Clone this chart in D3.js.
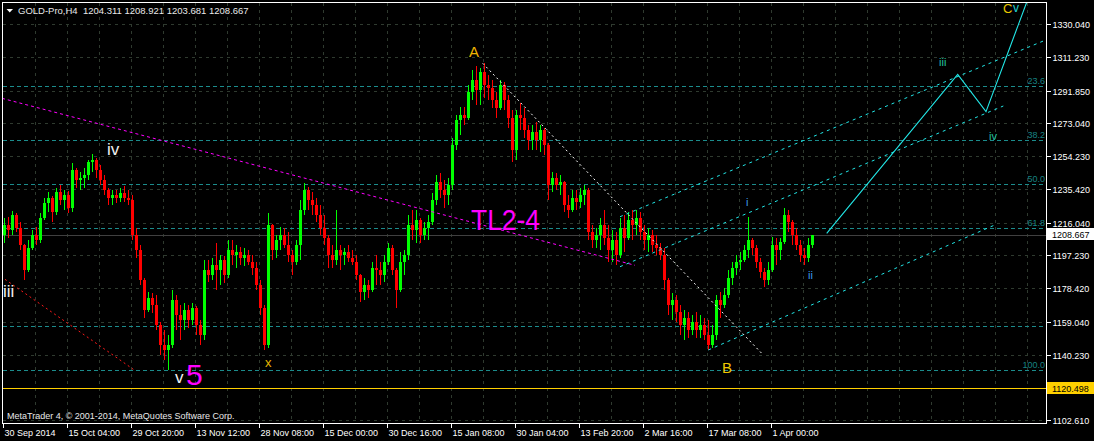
<!DOCTYPE html>
<html><head><meta charset="utf-8">
<script src="https://cdn.jsdelivr.net/npm/d3@7"></script>
<style>html,body{margin:0;padding:0;background:#000;overflow:hidden}svg{display:block}text{font-family:"Liberation Sans",Arial,sans-serif}</style>
</head><body>
<svg id="c" width="1094" height="441"></svg>
<script>
// ---------- DATA ----------
const symbolTitle = "GOLD-Pro,H4";
const lastBarOHLC = [1204.311, 1208.921, 1203.681, 1208.667];
const copyrightText = "MetaTrader 4, \u00a9 2001-2014, MetaQuotes Software Corp.";
const barsPerGroup = 4; // each candle below summarises 4 H4 bars

const opens = [1208.9,1214.6,1211.8,1220.4,1212.9,1203.2,1188.9,1201.5,1208.9,1206.1,1218.7,1227.3,1230.1,1222.2,1233.7,1229.0,1231.9,1224.4,1246.2,1240.5,1241.6,1243.3,1250.9,1252.0,1246.2,1240.5,1234.8,1230.1,1231.9,1230.1,1233.1,1230.1,1229.0,1208.9,1200.3,1183.1,1165.9,1172.8,1168.8,1157.3,1145.8,1143.0,1145.8,1171.6,1163.0,1160.2,1165.9,1160.2,1167.0,1157.3,1151.5,1188.9,1186.0,1191.7,1188.9,1194.6,1186.0,1200.3,1197.5,1199.2,1195.7,1197.5,1193.5,1190.1,1180.2,1167.0,1145.8,1214.6,1200.3,1206.1,1208.9,1203.2,1197.5,1193.5,1203.2,1223.3,1234.8,1229.0,1226.1,1220.4,1212.9,1207.2,1197.5,1194.6,1200.3,1197.5,1199.2,1195.7,1193.5,1186.0,1176.3,1180.2,1177.4,1190.1,1188.9,1186.0,1193.5,1201.5,1188.9,1177.4,1193.5,1197.5,1214.6,1211.8,1217.5,1208.9,1212.9,1216.4,1229.0,1239.4,1234.8,1231.9,1237.6,1260.6,1274.9,1277.8,1276.1,1290.9,1297.9,1292.1,1302.5,1294.9,1293.2,1286.4,1281.8,1294.9,1286.4,1276.1,1257.7,1277.8,1276.1,1269.2,1263.5,1268.1,1263.5,1269.2,1260.6,1237.6,1241.6,1237.6,1239.4,1226.1,1223.3,1230.1,1227.9,1231.9,1234.8,1210.7,1206.1,1208.9,1214.6,1207.2,1200.3,1206.1,1197.5,1212.9,1207.2,1217.5,1214.6,1218.7,1210.7,1206.1,1208.9,1203.2,1201.5,1197.5,1183.1,1168.8,1171.6,1164.8,1157.3,1161.3,1154.4,1159.1,1154.4,1157.3,1151.5,1145.8,1151.5,1171.6,1168.8,1174.5,1184.3,1190.1,1193.5,1194.6,1200.3,1206.1,1201.5,1193.5,1187.8,1183.1,1188.9,1203.2,1200.3,1205.0,1220.4,1216.4,1208.9,1203.2,1197.5,1195.7,1203.2];
const highs = [1218.7,1219.3,1222.7,1221.5,1216.4,1204.0,1206.1,1211.8,1213.5,1221.6,1230.1,1233.7,1231.5,1235.9,1237.6,1234.8,1234.2,1250.3,1247.5,1245.1,1247.4,1252.0,1255.4,1253.0,1249.1,1243.3,1235.9,1234.8,1234.8,1235.9,1237.0,1234.8,1231.9,1212.9,1203.2,1184.0,1176.3,1175.7,1174.5,1159.1,1154.4,1151.5,1177.4,1174.5,1168.8,1170.0,1168.8,1170.0,1168.0,1160.2,1194.6,1194.6,1195.7,1204.4,1197.5,1196.9,1206.1,1206.1,1203.2,1202.1,1201.5,1200.3,1197.5,1193.5,1183.1,1168.8,1221.6,1215.5,1208.9,1213.5,1212.9,1210.7,1200.3,1206.1,1229.0,1238.8,1236.5,1233.7,1230.1,1226.1,1220.4,1208.9,1203.2,1223.3,1203.2,1201.5,1203.2,1200.3,1197.5,1186.5,1184.3,1183.1,1193.5,1197.5,1193.5,1197.5,1204.4,1203.2,1190.0,1199.2,1200.3,1220.4,1223.3,1223.3,1218.5,1216.4,1220.4,1233.1,1243.3,1244.5,1240.5,1241.6,1264.6,1277.8,1282.4,1282.4,1294.9,1303.6,1305.9,1304.7,1307.7,1300.9,1297.9,1290.9,1297.9,1296.7,1289.3,1280.7,1280.7,1284.7,1281.8,1272.0,1272.0,1273.8,1272.0,1270.3,1261.5,1245.1,1244.5,1243.3,1240.0,1231.9,1234.8,1234.8,1235.9,1237.6,1235.9,1214.6,1212.9,1218.7,1223.3,1214.6,1211.8,1210.7,1218.7,1220.4,1222.2,1223.3,1223.3,1222.2,1214.6,1212.9,1211.8,1208.9,1204.4,1201.5,1184.0,1175.7,1174.5,1168.8,1165.9,1164.8,1163.0,1164.8,1163.0,1161.3,1160.2,1157.3,1174.5,1176.3,1178.5,1188.9,1193.5,1197.5,1199.2,1203.2,1219.3,1207.2,1203.2,1195.7,1190.1,1193.5,1207.8,1207.2,1207.2,1224.4,1223.3,1217.5,1212.9,1206.1,1201.5,1207.2,1208.921];
const lows = [1204.4,1207.2,1208.9,1210.7,1200.3,1183.1,1187.8,1200.3,1203.2,1204.5,1217.5,1222.2,1216.4,1220.5,1226.1,1223.3,1221.6,1222.2,1235.9,1234.8,1235.9,1240.5,1245.1,1241.6,1237.6,1231.9,1226.1,1226.1,1227.3,1227.9,1227.9,1226.1,1206.1,1195.7,1180.2,1161.3,1164.8,1164.2,1154.4,1140.1,1137.2,1131.5,1144.1,1154.4,1148.7,1154.4,1155.6,1157.3,1151.5,1145.8,1148.7,1182.0,1183.1,1177.4,1180.2,1181.4,1184.3,1191.7,1190.1,1191.7,1191.2,1191.7,1186.0,1177.4,1163.0,1143.0,1144.1,1194.6,1195.7,1200.3,1201.5,1193.5,1186.0,1191.7,1194.6,1220.4,1223.3,1220.4,1216.4,1208.9,1203.2,1190.1,1190.1,1191.7,1188.9,1191.7,1193.5,1191.7,1183.1,1170.5,1171.6,1172.8,1176.0,1180.2,1180.2,1182.0,1191.7,1186.0,1167.0,1176.3,1186.0,1194.6,1206.1,1204.4,1204.4,1206.1,1206.1,1214.6,1226.1,1230.1,1224.4,1226.1,1234.8,1257.7,1266.3,1272.0,1274.9,1286.4,1283.5,1283.5,1287.5,1286.4,1281.8,1276.1,1280.7,1280.7,1270.3,1250.9,1252.0,1269.2,1264.6,1257.7,1257.7,1257.7,1256.6,1254.8,1229.0,1233.7,1234.8,1231.9,1222.2,1218.7,1222.2,1223.3,1224.4,1226.1,1206.1,1201.5,1201.5,1200.3,1203.2,1193.5,1193.5,1191.7,1195.7,1199.2,1206.1,1206.1,1208.9,1206.1,1200.3,1199.2,1199.2,1197.5,1194.6,1177.4,1163.0,1160.2,1159.1,1151.5,1148.7,1149.8,1151.5,1149.8,1149.8,1148.7,1143.0,1144.1,1148.7,1161.3,1167.0,1173.0,1180.2,1186.0,1188.9,1193.5,1195.7,1197.5,1190.1,1184.3,1178.9,1180.2,1187.8,1191.7,1194.6,1204.0,1210.7,1203.2,1200.3,1193.5,1191.7,1193.5,1201.5];
const closes = [1214.6,1211.8,1220.4,1212.9,1203.2,1188.9,1201.5,1208.9,1206.1,1218.7,1227.3,1230.1,1222.2,1233.7,1229.0,1231.9,1224.4,1246.2,1240.5,1241.6,1243.3,1250.9,1252.0,1246.2,1240.5,1234.8,1230.1,1231.9,1230.1,1233.1,1230.1,1229.0,1208.9,1200.3,1183.1,1165.9,1172.8,1168.8,1157.3,1145.8,1143.0,1145.8,1171.6,1163.0,1160.2,1165.9,1160.2,1167.0,1157.3,1151.5,1188.9,1186.0,1191.7,1188.9,1194.6,1186.0,1200.3,1197.5,1199.2,1195.7,1197.5,1193.5,1190.1,1180.2,1167.0,1145.8,1214.6,1200.3,1206.1,1208.9,1203.2,1197.5,1193.5,1203.2,1223.3,1234.8,1229.0,1226.1,1220.4,1212.9,1207.2,1197.5,1194.6,1200.3,1197.5,1199.2,1195.7,1193.5,1186.0,1176.3,1180.2,1177.4,1190.1,1188.9,1186.0,1193.5,1201.5,1188.9,1177.4,1193.5,1197.5,1214.6,1211.8,1217.5,1208.9,1212.9,1216.4,1229.0,1239.4,1234.8,1231.9,1237.6,1260.6,1274.9,1277.8,1276.1,1290.9,1297.9,1292.1,1302.5,1294.9,1293.2,1286.4,1281.8,1294.9,1286.4,1276.1,1257.7,1277.8,1276.1,1269.2,1263.5,1268.1,1263.5,1269.2,1260.6,1237.6,1241.6,1237.6,1239.4,1226.1,1223.3,1230.1,1227.9,1231.9,1234.8,1210.7,1206.1,1208.9,1214.6,1207.2,1200.3,1206.1,1197.5,1212.9,1207.2,1217.5,1214.6,1218.7,1210.7,1206.1,1208.9,1203.2,1201.5,1197.5,1183.1,1168.8,1171.6,1164.8,1157.3,1161.3,1154.4,1159.1,1154.4,1157.3,1151.5,1145.8,1151.5,1171.6,1168.8,1174.5,1184.3,1190.1,1193.5,1194.6,1200.3,1206.1,1201.5,1193.5,1187.8,1183.1,1188.9,1203.2,1200.3,1205.0,1220.4,1216.4,1208.9,1203.2,1197.5,1195.7,1203.2,1208.667];

const priceTicks = [1330.040,1311.230,1291.850,1273.040,1254.230,1235.420,1216.040,1197.230,1178.420,1159.040,1140.230,1121.420,1102.610];
const dateTickBars = [0,64,128,192,256,320,384,448,512,576,640,704,768];
const dateLabels = ["30 Sep 2014","15 Oct 04:00","29 Oct 20:00","13 Nov 12:00","28 Nov 08:00","15 Dec 00:00","30 Dec 16:00","15 Jan 08:00","30 Jan 04:00","13 Feb 20:00","2 Mar 16:00","17 Mar 08:00","1 Apr 00:00"];
const gridBarStep = 32;

const currentPrice = 1208.667;
const supportPrice = 1120.498;
const fibHigh = 1345.0, fibLow = 1131.6;
const fibLevels = [23.6, 38.2, 50.0, 61.8, 100.0];
const extraLevelPrice = 1156.7;

const tl24Bars = [-1, 632], tl24Prices = [1287.40, 1191.56];
const redLineBars = [2, 130.3], redLinePrices = [1183.52, 1131.87];
const abLineBars = [479.7, 758.7], abLinePrices = [1307.49, 1141.06];
const chanUpperBars = [617, 1040.3], chanUpperPrices = [1219.45, 1320.28];
const chanMidBars = [617, 1000.3], chanMidPrices = [1190.76, 1282.98];
const chanLowBars = [705.3, 994], chanLowPrices = [1142.95, 1215.26];
const projBars = [823.7, 954.7, 983, 1023.8], projPrices = [1209.92, 1301.17, 1279.71, 1342.67];

const waveLabels = ["iv","iii","v","5","x","A","B","TL2-4","i","ii","iii","iv","C","v"];
const waveLabelBars = [104, 0, 172, 183, 262, 466, 719, 468, 743, 805, 936, 986, 1000, 1010];
const waveLabelPrices = [1254.86, 1173.37, 1124.24, 1122.63, 1133.19, 1311.10, 1130.04, 1211.82, 1225.59, 1183.70, 1305.94, 1263.47, 1336.53, 1337.10];

// ---------- STYLE ----------
const W = 1094, H = 441;
const plot = {left: 2.5, top: 2.5, right: 1046.5, bottom: 423.5};
const yellow = "#ffd000";
const labelStyle = [
  {size:17, color:"#f0f0f0"}, {size:17, color:"#f0f0f0"}, {size:17, color:"#f0f0f0"},
  {size:30, color:"#ff00ff"}, {size:13, color:"#e6b400"}, {size:15, color:"#f0b400"},
  {size:15, color:"#f0c800"}, {size:30, color:"#ff00ff", len:69}, {size:11, color:"#3d9cf0"},
  {size:11, color:"#3d9cf0"}, {size:11, color:"#22c4a0"}, {size:11, color:"#22c4a0"},
  {size:13, color:"#e8c800"}, {size:12, color:"#22d0d0"}
];

const svg = d3.select("#c");
svg.append("rect").attr("width", W).attr("height", H).attr("fill", "#000");

const x = d3.scaleLinear().domain([0, 1043]).range([3, 1046]);
const y = d3.scaleLinear().domain([1102.61, 1330.04]).range([420.3, 24]);

svg.append("defs").append("clipPath").attr("id","clip").append("rect")
  .attr("x", plot.left).attr("y", plot.top).attr("width", plot.right-plot.left).attr("height", plot.bottom-plot.top);
const g = svg.append("g").attr("clip-path","url(#clip)");

// grid
const gridColor = "#2f3a2f";
g.selectAll(".hg").data(priceTicks).enter().append("line")
  .attr("x1", plot.left).attr("x2", plot.right)
  .attr("y1", d => Math.round(y(d))+0.5).attr("y2", d => Math.round(y(d))+0.5)
  .attr("stroke", gridColor).attr("stroke-dasharray","3,4").attr("shape-rendering","crispEdges");
const vgBars = d3.range(gridBarStep, 1043, gridBarStep);
g.selectAll(".vg").data(vgBars).enter().append("line")
  .attr("x1", d => Math.round(x(d))+0.5).attr("x2", d => Math.round(x(d))+0.5)
  .attr("y1", plot.top).attr("y2", plot.bottom)
  .attr("stroke", gridColor).attr("stroke-dasharray","3,4").attr("shape-rendering","crispEdges");

// fib levels
const fibPrice = L => fibHigh - L/100*(fibHigh - fibLow);
const fibLinePrices = fibLevels.map(fibPrice).concat([extraLevelPrice]);
g.selectAll(".fib").data(fibLinePrices).enter().append("line")
  .attr("x1", plot.left).attr("x2", plot.right)
  .attr("y1", d => Math.round(y(d))+0.5).attr("y2", d => Math.round(y(d))+0.5)
  .attr("stroke", "#1b8c8c").attr("stroke-dasharray","4,3").attr("shape-rendering","crispEdges");
g.selectAll(".fibt").data(fibLevels).enter().append("text")
  .attr("x", 1045).attr("y", d => Math.round(y(fibPrice(d))) - 2)
  .attr("text-anchor","end").attr("font-size", 9).attr("fill", "#178282")
  .text(d => d.toFixed(1));

// current price line & support line
g.append("line").attr("x1", plot.left).attr("x2", plot.right)
  .attr("y1", Math.round(y(currentPrice))+0.5).attr("y2", Math.round(y(currentPrice))+0.5)
  .attr("stroke", "#404040").attr("shape-rendering","crispEdges");
g.append("line").attr("x1", plot.left).attr("x2", plot.right)
  .attr("y1", Math.floor(y(supportPrice))-0.5).attr("y2", Math.floor(y(supportPrice))-0.5)
  .attr("stroke", yellow).attr("stroke-width", 1).attr("shape-rendering","crispEdges");

// candles
const candles = opens.map((o, i) => ({i, o, h: highs[i], l: lows[i], c: closes[i]}));
const cg = g.append("g").attr("shape-rendering","crispEdges");
cg.selectAll(".w").data(candles).enter().append("line")
  .attr("x1", d => x(d.i*barsPerGroup + 1) + 0.5).attr("x2", d => x(d.i*barsPerGroup + 1) + 0.5)
  .attr("y1", d => y(d.h)).attr("y2", d => y(d.l))
  .attr("stroke", d => d.c >= d.o ? "#00ff00" : "#ff0000");
cg.selectAll(".b").data(candles).enter().append("rect")
  .attr("x", d => x(d.i*barsPerGroup)).attr("width", 3)
  .attr("y", d => y(Math.max(d.o, d.c)))
  .attr("height", d => Math.max(1, Math.abs(y(d.o) - y(d.c))))
  .attr("fill", d => d.c >= d.o ? "#00ff00" : "#ff0000");

// trend lines
function seg(bars, prices, color, dash, width) {
  const line = d3.line().x(d => x(d[0])).y(d => y(d[1]));
  g.append("path").attr("d", line(bars.map((b, i) => [b, prices[i]])))
    .attr("fill","none").attr("stroke", color).attr("stroke-width", width || 1)
    .attr("stroke-dasharray", dash || null);
}
seg(tl24Bars, tl24Prices, "#ff00ff", "3,3");
seg(redLineBars, redLinePrices, "#ff1a1a", "2,3");
seg(abLineBars, abLinePrices, "#ffffff", "2,3");
seg(chanUpperBars, chanUpperPrices, "#22e6e6", "3,4");
seg(chanMidBars, chanMidPrices, "#22e6e6", "3,4");
seg(chanLowBars, chanLowPrices, "#22e6e6", "3,4");
seg(projBars, projPrices, "#22e6e6", null, 1.1);

// wave labels
g.selectAll(".wl").data(waveLabels).enter().append("text")
  .attr("x", (d, i) => x(waveLabelBars[i]))
  .attr("y", (d, i) => y(waveLabelPrices[i]))
  .attr("font-size", (d, i) => labelStyle[i].size)
  .attr("fill", (d, i) => labelStyle[i].color)
  .each(function(d, i){ if (labelStyle[i].len) d3.select(this).attr("textLength", labelStyle[i].len).attr("lengthAdjust","spacingAndGlyphs"); })
  .text(d => d);

// frame
svg.append("rect").attr("x", plot.left).attr("y", plot.top)
  .attr("width", plot.right - plot.left).attr("height", plot.bottom - plot.top)
  .attr("fill","none").attr("stroke","#ffffff").attr("shape-rendering","crispEdges");

// right axis
const yAxis = d3.axisRight(y).tickValues(priceTicks.filter(p => Math.abs(p - supportPrice) > 3))
  .tickFormat(d3.format(".3f")).tickSize(4).tickPadding(2);
const ya = svg.append("g").attr("transform", `translate(${plot.right},0)`).call(yAxis);
ya.select(".domain").remove();
ya.selectAll("line").attr("stroke","#fff").attr("shape-rendering","crispEdges");
ya.selectAll(".tick").attr("transform", d => `translate(0,${Math.round(y(d))+0.5})`);
ya.selectAll("text").attr("fill","#fff").attr("font-size",9).attr("font-family","Liberation Sans, Arial, sans-serif")
  .attr("dy", "0.35em").attr("x", 6);

// bottom axis
const xAxis = d3.axisBottom(x).tickValues(dateTickBars).tickFormat((d, i) => dateLabels[i]).tickSize(4);
const xa = svg.append("g").attr("transform", `translate(0,${plot.bottom})`).call(xAxis);
xa.select(".domain").remove();
xa.selectAll(".tick").attr("transform", d => `translate(${Math.round(x(d))+0.5},0)`);
xa.selectAll("line").attr("stroke","#fff").attr("shape-rendering","crispEdges");
xa.selectAll("text").attr("fill","#fff").attr("font-size",9).attr("font-family","Liberation Sans, Arial, sans-serif")
  .attr("text-anchor","start").attr("x", 1).attr("y", 12).attr("dy", 0);

// price boxes
function priceBox(p, bg) {
  const yy = Math.round(y(p));
  svg.append("rect").attr("x", 1047).attr("y", yy - 7).attr("width", 47).attr("height", 12).attr("fill", bg);
  svg.append("text").attr("x", 1052).attr("y", yy + 3).attr("font-size", 9).attr("fill", "#000").text(p.toFixed(3));
}
priceBox(currentPrice, "#ffffff");
priceBox(supportPrice, yellow);

// header
svg.append("path").attr("d", "M6.5,9 L13,9 L9.75,12.5 Z").attr("fill", "#fff");
svg.append("text").attr("x", 18).attr("y", 13.5).attr("font-size", 9.5).attr("fill", "#e8e8e8")
  .attr("xml:space","preserve")
  .text(symbolTitle + "  " + lastBarOHLC.map(v => v.toFixed(3)).join(" "));
svg.append("text").attr("x", 7).attr("y", 419).attr("font-size", 9).attr("fill", "#e8e8e8").text(copyrightText);
</script>
</body></html>
